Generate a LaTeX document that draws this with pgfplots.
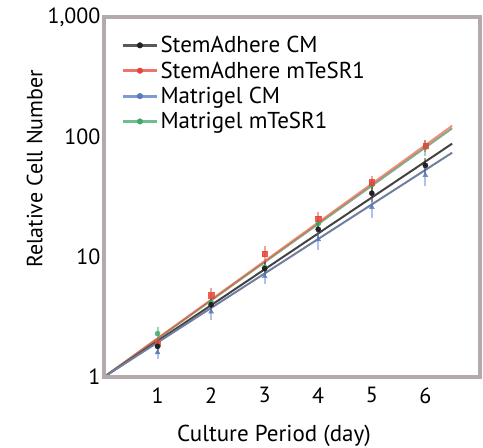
\documentclass[border=0pt]{standalone}
\usepackage{pgfplots}
\pgfplotsset{compat=1.18}
\usepackage{fontspec}
\setmainfont{PT Sans}
\definecolor{cblack}{HTML}{222222}
\definecolor{cred}{HTML}{E5453A}
\definecolor{cblue}{HTML}{5577C4}
\definecolor{cgreen}{HTML}{3FA86A}
\definecolor{cframe}{HTML}{B3ABAB}
\begin{document}
\begin{tikzpicture}
\begin{axis}[
  name=main,
  scale only axis, width=376pt, height=360pt,
  ymode=log, ymin=1, ymax=1000,
  xmin=0, xmax=7.02,
  xtick={1,2,3,4,5,6},
  ytick={1,10,100,1000},
  yticklabels={1,10,100,{1,000}},
  major tick length=0pt, minor tick num=0,
  yminorticks=false,
  axis line style={draw=none},
  font=\fontsize{22}{26}\selectfont,
  tick label style={font=\fontsize{22}{26}\selectfont},
  xticklabel style={yshift=-7pt},
  yticklabel style={xshift=0pt},
  /pgf/number format/assume math mode=true,
  xlabel={Culture Period (day)},
  ylabel={Relative Cell Number},
  xlabel style={at={(ticklabel cs:0.452)}, yshift=-15pt, font=\fontsize{23}{27}\selectfont},
  ylabel style={at={(ticklabel cs:0.578)}, yshift=-2pt},
  legend style={draw=none, fill=none, at={(0.043,0.955)}, anchor=north west,
    font=\fontsize{23}{27}\selectfont, row sep=3.5pt, inner sep=1pt},
  legend cell align=left,
  legend image code/.code={\draw[#1, line width=3pt, opacity=0.75] (0cm,0cm) -- (1.2cm,0cm); \fill[#1] (0.6cm,0cm) circle (2.8pt);},
  error bars/y dir=both, error bars/y explicit,
  error bars/error mark=none,
  clip=false,
]
\addlegendimage{cblack}
\addlegendentry{StemAdhere CM}
\addlegendimage{cred}
\addlegendentry{StemAdhere mTeSR1}
\addlegendimage{cblue}
\addlegendentry{Matrigel CM}
\addlegendimage{cgreen}
\addlegendentry{Matrigel mTeSR1}
% fit lines
\addplot[forget plot, no marks, draw=cgreen!70!black, line width=2pt, opacity=0.6] coordinates {(0,1) (6.5,118)};
\addplot[forget plot, no marks, draw=cred!80!orange, line width=2pt, opacity=0.65] coordinates {(0,1) (6.5,124)};
\addplot[forget plot, no marks, draw=cblack!85, line width=2pt] coordinates {(0,1) (6.5,88)};
\addplot[forget plot, no marks, draw=black!40!cblue!70, line width=2pt] coordinates {(0,1) (6.5,74)};
% data points with error bars
\addplot[forget plot, only marks, mark=*, mark size=2.6pt, color=cgreen, opacity=0.8, error bars/error bar style={line width=2pt, cgreen, opacity=0.5}] coordinates {
(1,2.3) +- (0,0.3)
(2,4.2) +- (0,0.5)
(3,8.2) +- (0,1.0)
(4,19) +- (0,2.5)
(5,40) +- (0,5)
(6,82) +- (0,12)
};
\addplot[forget plot, only marks, mark=square*, mark size=2.6pt, color=cred, opacity=0.85, error bars/error bar style={line width=2pt, cred, opacity=0.5}] coordinates {
(1,1.9) +- (0,0.2)
(2,4.8) +- (0,0.7)
(3,10.6) +- (0,1.8)
(4,21) +- (0,2.5)
(5,42) +- (0,5)
(6,85) +- (0,10)
};
\addplot[forget plot, only marks, mark=*, mark size=2.6pt, color=cblack, error bars/error bar style={line width=2pt, cblack, opacity=0.45}] coordinates {
(1,1.8) +- (0,0.2)
(2,4.0) +- (0,0.5)
(3,8.0) +- (0,1.0)
(4,17) +- (0,2.5)
(5,34) +- (0,5)
(6,58) +- (0,9)
};
\addplot[forget plot, only marks, mark=triangle*, mark size=2.8pt, color=cblue, opacity=0.85, error bars/error bar style={line width=2pt, cblue, opacity=0.45}] coordinates {
(1,1.6) +- (0,0.2)
(2,3.5) +- (0,0.5)
(3,6.9) +- (0,1.0)
(4,14) +- (0,2.5)
(5,26) +- (0,5)
(6,48) +- (0,9)
};
\end{axis}
\draw[cframe, line width=4pt] (main.south west) -- (main.north west) -- (main.north east) -- (main.south east) -- cycle;
\pgfresetboundingbox
\path[use as bounding box] ([xshift=-104pt,yshift=-71pt]main.south west) rectangle ([xshift=3pt,yshift=17pt]main.north east);
\end{tikzpicture}
\end{document}
